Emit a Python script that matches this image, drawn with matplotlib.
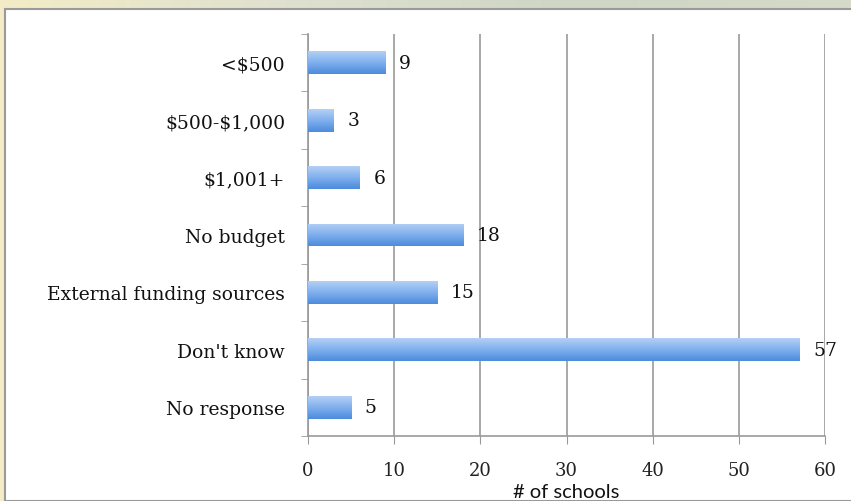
import matplotlib
matplotlib.use("Agg")
import matplotlib.pyplot as plt
import numpy as np
from matplotlib.patches import Rectangle
from matplotlib.colors import LinearSegmentedColormap

plt.rcParams["text.parse_math"] = False

categories = ["<$500", "$500-$1,000", "$1,001+", "No budget",
              "External funding sources", "Don't know", "No response"]
values = [9, 3, 6, 18, 15, 57, 5]
xticks = [0, 10, 20, 30, 40, 50, 60]
xlabel = "# of schools"

W, H = 851, 502
fig = plt.figure(figsize=(W / 100, H / 100), dpi=100)
fig.patch.set_facecolor("#dcdccb")

strip = fig.add_axes([0, 0, 1, 1], zorder=-10)
strip.axis("off")
grad = np.linspace(0, 1, 256).reshape(1, -1)
cm_bg = LinearSegmentedColormap.from_list("bg", ["#f3ecc6", "#dfe1cf", "#cfd6c6", "#d6dac8"])
strip.imshow(grad, aspect="auto", cmap=cm_bg, extent=[0, 1, 0, 1], transform=strip.transAxes)
fig.patches.append(Rectangle((5 / W, 0), 1, 1 - 10 / H, transform=fig.transFigure,
                             facecolor="white", edgecolor="#9a9a9a", linewidth=1.5, zorder=-5))

ax = fig.add_axes([308 / W, 1 - 437 / H, (825 - 308) / W, (437 - 35) / H])
ax.set_facecolor("none")
y = np.arange(len(categories))
bars = ax.barh(y, values, height=0.4, color="#6a9fe4", zorder=3)

cm_bar = LinearSegmentedColormap.from_list("bar", ["#b4d0f5", "#7fb0ee", "#4d8bdc"])
gv = np.linspace(0, 1, 64).reshape(-1, 1)
for b in bars:
    x0, y0 = b.get_x(), b.get_y()
    w, h = b.get_width(), b.get_height()
    im = ax.imshow(gv, aspect="auto", cmap=cm_bar, extent=[x0, x0 + w, y0 + h, y0],
                   zorder=4, interpolation="bilinear")
    im.set_clip_path(b)

FS = 13.5
ax.set_xlim(0, 60)
ax.set_ylim(len(categories) - 0.5, -0.5)
ax.set_xticks(xticks)
ax.set_xticklabels([str(t) for t in xticks], family="DejaVu Serif", fontsize=13, color="#222222")
ax.tick_params(axis="x", length=6, color="#999999", pad=12)
ax.set_yticks(y)
ax.set_yticklabels(categories, family="DejaVu Serif", fontsize=FS, color="#111111")
ax.tick_params(axis="y", which="major", length=0, pad=16.5)
ax.set_yticks(np.arange(-0.5, len(categories), 1), minor=True)
ax.tick_params(axis="y", which="minor", length=5, color="#999999")

ax.grid(axis="x", color="#999999", linewidth=1.2, zorder=1)
ax.set_axisbelow(True)
for s in ["top", "right"]:
    ax.spines[s].set_visible(False)
for s in ["left", "bottom"]:
    ax.spines[s].set_color("#999999")
    ax.spines[s].set_linewidth(1.2)

for yi, v in zip(y, values):
    ax.text(v + 1.6, yi, str(v), va="center", ha="left", family="DejaVu Serif",
            fontsize=FS, color="#111111", zorder=5)

ax.set_xlabel(xlabel, family="Lato", fontsize=14.5, labelpad=3, color="#111111")

fig.savefig("out.png", dpi=100)
